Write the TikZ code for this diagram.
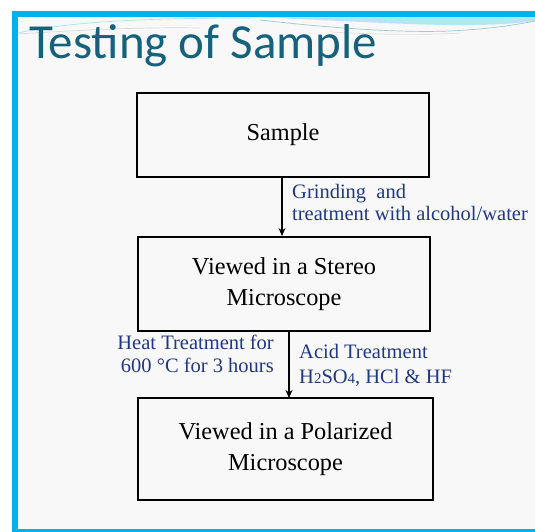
\documentclass[tikz,border=0pt]{standalone}
\usepackage{fontspec}
\setmainfont{Liberation Serif}
\newfontfamily\titlefont{Carlito}
\usetikzlibrary{arrows.meta}
\definecolor{framebl}{RGB}{0,176,240}
\definecolor{titlecol}{RGB}{22,98,124}
\definecolor{labelcol}{RGB}{32,56,130}
\definecolor{bgcol}{RGB}{248,248,248}
\tikzset{
  stepbox/.style={draw=black, line width=1.8pt, fill=bgcol, inner sep=0pt, align=center,
    font=\fontsize{24.3}{31}\selectfont},
  flowarrow/.style={line width=1.5pt, -{Stealth[length=8pt,width=7pt]}},
  lbl/.style={text=labelcol, inner sep=0pt, font=\fontsize{20.5}{22}\selectfont}
}
\begin{document}
\begin{tikzpicture}[x=1pt,y=-1pt]
\useasboundingbox (0,0) rectangle (535,532);
\fill[white] (0,0) rectangle (535,532);
\fill[bgcol] (12,11) rectangle (535,532);
% swoosh
\fill[cyan!30] (250,17) .. controls (380,22) and (470,30) .. (535,21) -- (535,17) -- cycle;
\draw[cyan!35, line width=0.7pt] (18,33) .. controls (60,24) and (120,18) .. (250,18);
\draw[gray!30, line width=0.7pt] (18,34) .. controls (80,30) and (140,27) .. (200,28);
\draw[teal!40, line width=0.7pt] (260,20) .. controls (330,28) and (400,33) .. (450,31) .. controls (490,29) and (515,25) .. (535,21);
\draw[gray!25, line width=0.7pt] (330,32) .. controls (380,35) and (430,35) .. (460,33);
% frame
\fill[framebl] (12,11) rectangle (535,17);
\fill[framebl] (12,11) rectangle (18,532);
\fill[framebl] (12,529) rectangle (535,532);
% title
\node[anchor=base west, inner sep=0pt, text=titlecol, font=\titlefont\fontsize{49}{49}\selectfont] (title) at (29,59) {Testing of Sample};
% boxes
\node[stepbox, minimum width=292pt, minimum height=84pt] (b1) at (283,135) {Sample};
\node[stepbox, minimum width=292pt, minimum height=94pt] (b2) at (284,284) {Viewed in a Stereo\\Microscope};
\node[stepbox, minimum width=295pt, minimum height=102pt] (b3) at (285.5,449) {Viewed in a Polarized\\Microscope};
% arrows
\coordinate (a1s) at (282,177);
\coordinate (a1e) at (282,236);
\draw[flowarrow] (a1s) -- (a1e);
\coordinate (a2s) at (289,331);
\coordinate (a2e) at (289,398);
\draw[flowarrow] (a2s) -- (a2e);
% labels
\node[lbl, align=left, anchor=west] (l1) at (292,202) {Grinding\ \ and\\treatment with alcohol/water};
\node[lbl, align=right, anchor=east, font=\fontsize{20.5}{23}\selectfont] (l2) at (274,354) {Heat Treatment for\\600 °C for 3 hours};
\node[lbl, align=left, anchor=west, font=\fontsize{20.5}{25}\selectfont] (l3) at (299,365) {Acid Treatment\\H{\fontsize{15}{15}\selectfont 2}SO{\fontsize{15}{15}\selectfont 4}, HCl \& HF};
\end{tikzpicture}
\end{document}
